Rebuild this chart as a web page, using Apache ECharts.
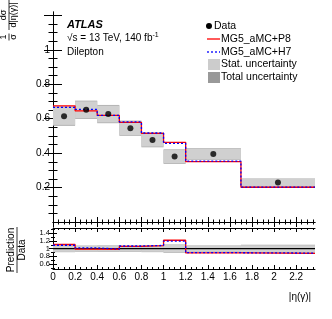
<!DOCTYPE html>
<html><head><meta charset="utf-8">
<script src="https://cdn.jsdelivr.net/npm/echarts@6/dist/echarts.min.js"></script>
<style>html,body{margin:0;padding:0;background:#fff}#c{width:332px;height:319px}</style>
</head><body><div id="c"></div>
<script>
// ---- data ----
const binEdges = [0, 0.2, 0.4, 0.6, 0.8, 1.0, 1.2, 1.7, 2.37];
const dataVals = [0.615, 0.652, 0.627, 0.545, 0.477, 0.38, 0.395, 0.229];
const totErr   = [0.056, 0.053, 0.053, 0.044, 0.043, 0.042, 0.034, 0.024];
const statErr  = [0.051, 0.049, 0.049, 0.040, 0.039, 0.038, 0.031, 0.021];
const p8Vals   = [0.675, 0.646, 0.619, 0.579, 0.515, 0.463, 0.351, 0.202];
const h7Vals   = [0.666, 0.654, 0.620, 0.582, 0.517, 0.457, 0.354, 0.203];
const p8Ratio  = [1.11, 0.99, 0.985, 1.06, 1.08, 1.22, 0.89, 0.88];
const h7Ratio  = [1.09, 1.02, 0.99, 1.07, 1.085, 1.20, 0.895, 0.885];
const ratioTotErr  = [0.091, 0.081, 0.085, 0.081, 0.09, 0.11, 0.086, 0.105];
const ratioStatErr = [0.082, 0.074, 0.077, 0.073, 0.081, 0.10, 0.078, 0.092];
// tick positions
const xMajor = [0, 0.2, 0.4, 0.6, 0.8, 1, 1.2, 1.4, 1.6, 1.8, 2, 2.2];
const xMinor = [0.05,0.1,0.15,0.25,0.3,0.35,0.45,0.5,0.55,0.65,0.7,0.75,0.85,0.9,0.95,1.05,1.1,1.15,1.25,1.3,1.35,1.45,1.5,1.55,1.65,1.7,1.75,1.85,1.9,1.95,2.05,2.1,2.15,2.25,2.3,2.35];
const mainYMajor = [0.2, 0.4, 0.6, 0.8, 1, 1.2];
const mainYLabels = [0.2, 0.4, 0.6, 0.8, 1];
const mainYMinor = [0.05,0.1,0.15,0.25,0.3,0.35,0.45,0.5,0.55,0.65,0.7,0.75,0.85,0.9,0.95,1.05,1.1,1.15];
const ratioYTicks = [0.6, 0.8, 1, 1.2, 1.4];
const ratioYLabelsA = [0.6, 1, 1.4];
const ratioYLabelsB = [0.8, 1.2];
const ratioYMinor = [0.5, 0.7, 0.9, 1.1, 1.3, 1.5];

const F = '"Liberation Sans", Arial, Helvetica, sans-serif';
const chart = echarts.init(document.getElementById('c'), null, {renderer: 'canvas'});

function stepData(vals) {
  const d = vals.map((v, i) => [binEdges[i], v]);
  d.push([binEdges[binEdges.length - 1], vals[vals.length - 1]]);
  return d;
}
const centers = binEdges.slice(0, -1).map((e, i) => (e + binEdges[i + 1]) / 2);

function boxSeries(xi, yi, mid, errs, color, z) {
  return {
    type: 'custom', xAxisIndex: xi, yAxisIndex: yi, silent: true, z: z,
    data: mid.map((c, i) => [binEdges[i], binEdges[i + 1], c - errs[i], c + errs[i]]),
    encode: {x: [0, 1], y: [2, 3]},
    renderItem: (params, api) => {
      const p1 = api.coord([api.value(0), api.value(3)]);
      const p2 = api.coord([api.value(1), api.value(2)]);
      return {type: 'rect', shape: {x: p1[0], y: p1[1], width: p2[0] - p1[0], height: p2[1] - p1[1]},
              style: {fill: color}};
    }
  };
}

const fmt = v => String(Math.round(v * 10) / 10);
function ax(grid, pos, min, max, ticks, tickLen, line, labelVals, labelSize) {
  return {
    type: 'value', gridIndex: grid, position: pos, min: min, max: max,
    axisLine: {show: line, lineStyle: {color: '#000', width: 1}},
    splitLine: {show: false}, minorTick: {show: false},
    axisTick: {show: !!ticks, inside: true, length: tickLen, customValues: ticks || [], lineStyle: {color: '#000', width: 1}},
    axisLabel: labelVals ? {show: true, fontFamily: F, fontSize: labelSize, color: '#000', margin: 3,
      customValues: labelVals, formatter: fmt, hideOverlap: false} : {show: false}
  };
}
const XMAX = 2.37, YMAX = 1.22, RMIN = 0.47, RMAX = 1.54;

const option = {
  animation: false,
  backgroundColor: '#fff',
  grid: [
    {left: 53, right: 17, top: 12, height: 210},
    {left: 53, right: 17, top: 228, height: 41}
  ],
  xAxis: [
    ax(0, 'bottom', 0, XMAX, xMajor, 5, true),        // 0
    ax(0, 'bottom', 0, XMAX, xMinor, 2.5, false),     // 1
    ax(0, 'top', 0, XMAX, xMajor, 5, true),           // 2
    ax(0, 'top', 0, XMAX, xMinor, 2.5, false),        // 3
    ax(1, 'bottom', 0, XMAX, xMajor, 4, true, xMajor, 10), // 4
    ax(1, 'bottom', 0, XMAX, xMinor, 2, false),       // 5
    ax(1, 'top', 0, XMAX, xMajor, 4, true),           // 6
    ax(1, 'top', 0, XMAX, xMinor, 2, false)           // 7
  ],
  yAxis: [
    ax(0, 'left', 0, YMAX, mainYMajor, 9, true, mainYLabels, 10),  // 0
    ax(0, 'left', 0, YMAX, mainYMinor, 4.5, false),                 // 1
    ax(0, 'right', 0, YMAX, mainYMajor, 9, true),                   // 2
    ax(0, 'right', 0, YMAX, mainYMinor, 4.5, false),                // 3
    ax(1, 'left', RMIN, RMAX, ratioYTicks, 4, true, ratioYLabelsA, 7.5), // 4
    ax(1, 'left', RMIN, RMAX, ratioYMinor, 2, false),               // 5
    ax(1, 'right', RMIN, RMAX, ratioYTicks, 4, true),               // 6
    ax(1, 'right', RMIN, RMAX, ratioYMinor, 2, false),              // 7
    ax(1, 'left', RMIN, RMAX, null, 0, false, ratioYLabelsB, 7.5)   // 8
  ],
  series: [
    boxSeries(0, 0, dataVals, totErr, '#a9a9a9', 1),
    boxSeries(0, 0, dataVals, statErr, '#d0d0d0', 2),
    {type: 'line', xAxisIndex: 0, yAxisIndex: 0, step: 'end', data: stepData(p8Vals), symbol: 'none', z: 3,
     lineStyle: {color: '#ff0000', width: 1.3}},
    {type: 'line', xAxisIndex: 0, yAxisIndex: 0, step: 'end', data: stepData(h7Vals), symbol: 'none', z: 4,
     lineStyle: {color: '#0000ff', width: 1.3, type: [2, 2]}},
    {type: 'scatter', xAxisIndex: 0, yAxisIndex: 0, data: centers.map((c, i) => [c, dataVals[i]]),
     symbol: 'circle', symbolSize: 6, itemStyle: {color: '#000'}, z: 5},

    boxSeries(4, 4, dataVals.map(() => 1), ratioTotErr, '#a9a9a9', 1),
    boxSeries(4, 4, dataVals.map(() => 1), ratioStatErr, '#d0d0d0', 2),
    {type: 'line', xAxisIndex: 4, yAxisIndex: 4, data: [[0, 1], [XMAX, 1]], symbol: 'none', z: 3,
     lineStyle: {color: '#000', width: 1.2}},
    {type: 'line', xAxisIndex: 4, yAxisIndex: 4, step: 'end', data: stepData(p8Ratio), symbol: 'none', z: 4,
     lineStyle: {color: '#ff0000', width: 1.3}},
    {type: 'line', xAxisIndex: 4, yAxisIndex: 4, step: 'end', data: stepData(h7Ratio), symbol: 'none', z: 5,
     lineStyle: {color: '#0000ff', width: 1.3, type: [2, 2]}}
  ],
  graphic: [
    // y-axis title 1/σ dσ/d|η(γ)|
    {type: 'group', x: 9, y: 37, rotation: Math.PI / 2, children: [
      {type: 'text', x: 0, y: -1, style: {text: '1', fontFamily: F, fontSize: 9, fill: '#000', align: 'center', verticalAlign: 'bottom'}},
      {type: 'line', shape: {x1: -3.5, y1: 0, x2: 3.5, y2: 0}, style: {stroke: '#000', lineWidth: 0.8}},
      {type: 'text', x: 0, y: 0, style: {text: 'σ', fontFamily: F, fontSize: 9, fill: '#000', align: 'center', verticalAlign: 'top'}},
      {type: 'text', x: 22, y: -1, style: {text: 'dσ', fontFamily: F, fontSize: 9, fill: '#000', align: 'center', verticalAlign: 'bottom'}},
      {type: 'line', shape: {x1: 7, y1: 0, x2: 37, y2: 0}, style: {stroke: '#000', lineWidth: 0.8}},
      {type: 'text', x: 22, y: 0, style: {text: 'd|η(γ)|', fontFamily: F, fontSize: 9, fill: '#000', align: 'center', verticalAlign: 'top'}}
    ]},
    // ratio title
    {type: 'group', x: 17, y: 250, rotation: Math.PI / 2, children: [
      {type: 'text', x: 0, y: -0.5, style: {text: 'Prediction', fontFamily: F, fontSize: 10, fill: '#000', align: 'center', verticalAlign: 'bottom'}},
      {type: 'line', shape: {x1: -23, y1: 0, x2: 23, y2: 0}, style: {stroke: '#000', lineWidth: 0.8}},
      {type: 'text', x: 0, y: 0.5, style: {text: 'Data', fontFamily: F, fontSize: 10, fill: '#000', align: 'center', verticalAlign: 'top'}}
    ]},
    {type: 'text', x: 300, y: 297, style: {text: '|η(γ)|', fontFamily: F, fontSize: 10, fill: '#000', align: 'center', verticalAlign: 'middle'}},
    // ATLAS label
    {type: 'text', x: 67, y: 25, style: {text: 'ATLAS', fontFamily: F, fontSize: 11, fontWeight: 'bold', fontStyle: 'italic', fill: '#000', verticalAlign: 'middle'}},
    {type: 'text', x: 67, y: 38, style: {text: '√s = 13 TeV, 140 fb{s|-1}', fontFamily: F, fontSize: 10, fill: '#000', verticalAlign: 'middle',
      rich: {s: {fontSize: 7, verticalAlign: 'top', padding: [0, 0, 6, 0], fontFamily: F}}}},
    {type: 'text', x: 67, y: 52, style: {text: 'Dilepton', fontFamily: F, fontSize: 10, fill: '#000', verticalAlign: 'middle'}},
    // legend
    {type: 'circle', shape: {cx: 209, cy: 26, r: 3}, style: {fill: '#000'}},
    {type: 'text', x: 214, y: 26, style: {text: 'Data', fontFamily: F, fontSize: 10.5, fill: '#000', verticalAlign: 'middle'}},
    {type: 'line', shape: {x1: 207, y1: 39, x2: 220, y2: 39}, style: {stroke: '#ff0000', lineWidth: 1.3}},
    {type: 'text', x: 221, y: 39, style: {text: 'MG5_aMC+P8', fontFamily: F, fontSize: 10.5, fill: '#000', verticalAlign: 'middle'}},
    {type: 'line', shape: {x1: 207, y1: 52, x2: 220, y2: 52}, style: {stroke: '#0000ff', lineWidth: 1.3, lineDash: [2, 2]}},
    {type: 'text', x: 221, y: 52, style: {text: 'MG5_aMC+H7', fontFamily: F, fontSize: 10.5, fill: '#000', verticalAlign: 'middle'}},
    {type: 'rect', shape: {x: 208, y: 59, width: 12, height: 11}, style: {fill: '#cccccc'}},
    {type: 'text', x: 221, y: 64.5, style: {text: 'Stat. uncertainty', fontFamily: F, fontSize: 10.5, fill: '#000', verticalAlign: 'middle'}},
    {type: 'rect', shape: {x: 208, y: 72, width: 12, height: 11}, style: {fill: '#999999'}},
    {type: 'text', x: 221, y: 77.5, style: {text: 'Total uncertainty', fontFamily: F, fontSize: 10.5, fill: '#000', verticalAlign: 'middle'}}
  ]
};
chart.setOption(option);
</script></body></html>
